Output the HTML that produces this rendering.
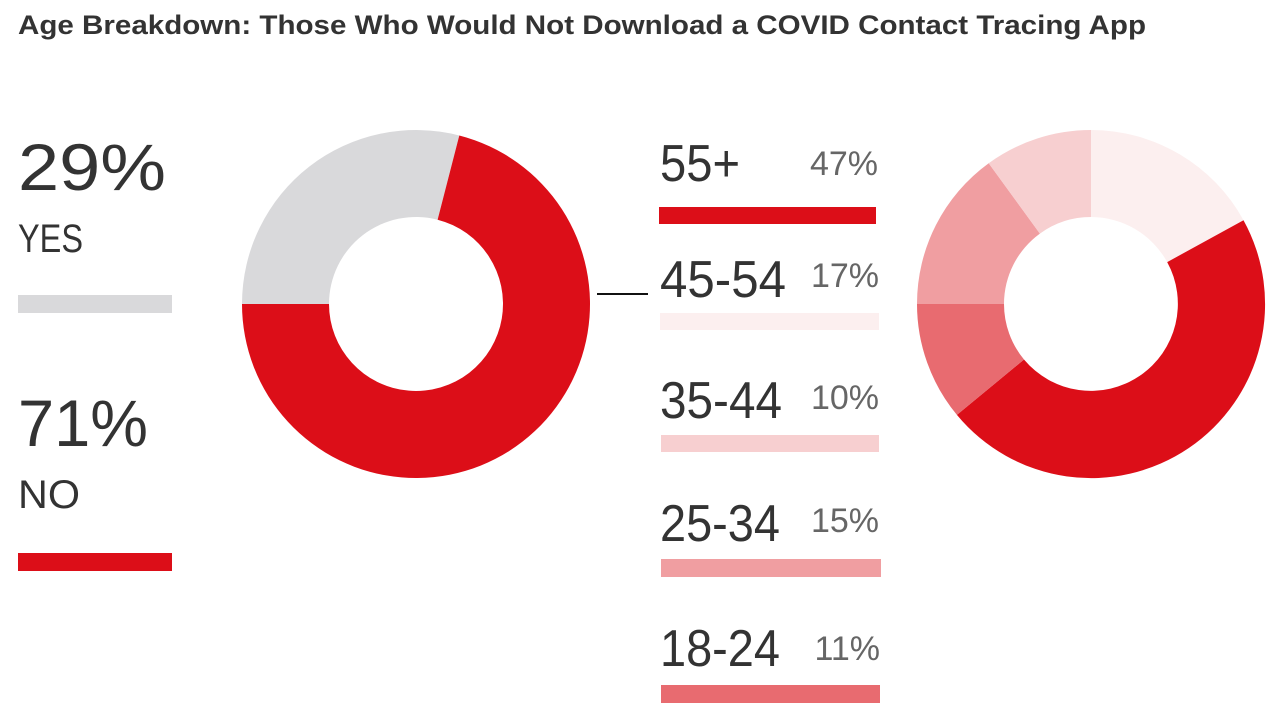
<!DOCTYPE html>
<html><head><meta charset="utf-8"><style>
html,body{margin:0;padding:0;background:#fff;}
svg{display:block;font-family:"Liberation Sans",sans-serif;}
</style></head><body>
<svg width="1285" height="721" viewBox="0 0 1285 721" xmlns="http://www.w3.org/2000/svg">
<text x="18" y="34" font-size="27" font-weight="bold" fill="#333" textLength="1128" lengthAdjust="spacingAndGlyphs">Age Breakdown: Those Who Would Not Download a COVID Contact Tracing App</text>

<!-- left stats -->
<text x="18" y="190" font-size="66" fill="#333" textLength="148" lengthAdjust="spacingAndGlyphs">29%</text>
<text x="18" y="252" font-size="40" fill="#333" textLength="65" lengthAdjust="spacingAndGlyphs">YES</text>
<rect x="18" y="295" width="154" height="18" fill="#d9d9db"/>
<text x="18" y="446" font-size="66" fill="#333" textLength="130" lengthAdjust="spacingAndGlyphs">71%</text>
<text x="18" y="508" font-size="40" fill="#333" textLength="62" lengthAdjust="spacingAndGlyphs">NO</text>
<rect x="18" y="553" width="154" height="18" fill="#dc0e18"/>

<!-- left donut -->
<path d="M242,304 A174,174 0 0 1 459.3,135.5 L437.6,219.7 A87,87 0 0 0 329,304 Z" fill="#d9d9db"/>
<path d="M459.3,135.5 A174,174 0 1 1 242,304 L329,304 A87,87 0 1 0 437.6,219.7 Z" fill="#dc0e18"/>

<line x1="597" y1="294" x2="648" y2="294" stroke="#111" stroke-width="2"/>

<!-- legend -->
<g fill="#333" font-size="52">
<text x="660" y="181" textLength="80" lengthAdjust="spacingAndGlyphs">55+</text>
<text x="660" y="297" textLength="126" lengthAdjust="spacingAndGlyphs">45-54</text>
<text x="660" y="418" textLength="122" lengthAdjust="spacingAndGlyphs">35-44</text>
<text x="660" y="541" textLength="120" lengthAdjust="spacingAndGlyphs">25-34</text>
<text x="660" y="666" textLength="120" lengthAdjust="spacingAndGlyphs">18-24</text>
</g>
<g fill="#666" font-size="34" text-anchor="end">
<text x="878" y="175">47%</text>
<text x="879" y="287">17%</text>
<text x="879" y="409">10%</text>
<text x="879" y="532">15%</text>
<text x="880" y="660">11%</text>
</g>
<rect x="659" y="207" width="217" height="17" fill="#dc0e18"/>
<rect x="660" y="313" width="219" height="17" fill="#fcefef"/>
<rect x="661" y="435" width="218" height="17" fill="#f7cfd0"/>
<rect x="661" y="559" width="220" height="18" fill="#f09ea1"/>
<rect x="661" y="685" width="219" height="18" fill="#e86b70"/>

<!-- right donut -->
<path d="M1091,130 A174,174 0 0 1 1243.5,220.2 L1167.2,262.1 A87,87 0 0 0 1091,217 Z" fill="#fcefef"/>
<path d="M1243.5,220.2 A174,174 0 0 1 956.9,414.9 L1024,359.5 A87,87 0 0 0 1167.2,262.1 Z" fill="#dc0e18"/>
<path d="M956.9,414.9 A174,174 0 0 1 917,304 L1004,304 A87,87 0 0 0 1024,359.5 Z" fill="#e86b70"/>
<path d="M917,304 A174,174 0 0 1 988.7,163.2 L1039.9,233.6 A87,87 0 0 0 1004,304 Z" fill="#f09ea1"/>
<path d="M988.7,163.2 A174,174 0 0 1 1091,130 L1091,217 A87,87 0 0 0 1039.9,233.6 Z" fill="#f7cfd0"/>
</svg>
</body></html>
